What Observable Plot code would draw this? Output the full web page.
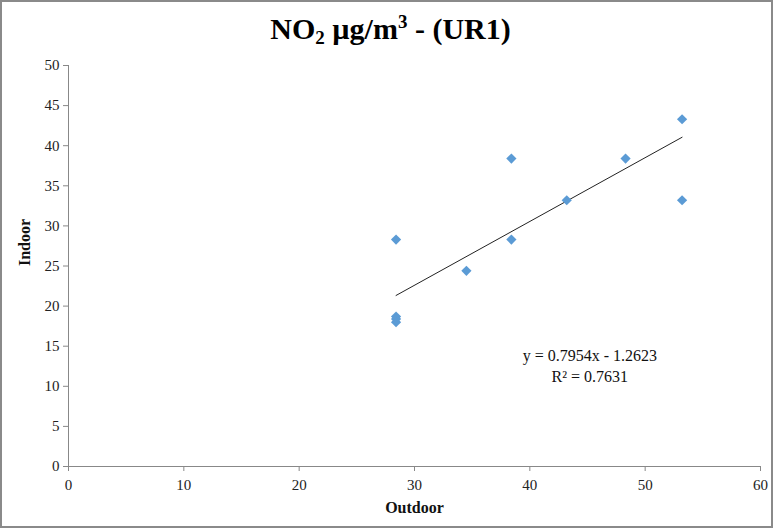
<!DOCTYPE html>
<html>
<head>
<meta charset="utf-8">
<script src="https://cdn.jsdelivr.net/npm/d3@7"></script>
<script src="https://cdn.jsdelivr.net/npm/@observablehq/plot@0.6"></script>
<style>
  html, body { margin: 0; padding: 0; background: #fff; }
  #wrap { width: 773px; height: 528px; box-sizing: border-box; border: 2px solid #8a8a8a; background: #fff; position: relative; }
  #title { height: 50px; text-align: center; font-family: "Liberation Serif", "Times New Roman", serif; font-weight: bold; font-size: 30px; line-height: 54px; color: #000; padding-left: 8px; }
  #title sub { font-size: 19px; vertical-align: -5px; line-height: 0; }
  #title sup { font-size: 19px; vertical-align: 11px; line-height: 0; }
  svg { display: block; }
</style>
</head>
<body>
<div id="wrap">
  <div id="title">NO<sub>2</sub> µg/m<sup>3</sup> - (UR1)</div>
  <div id="chart"></div>
</div>
<script>
const outdoor = [28.4, 28.4, 28.4, 28.4, 34.5, 38.4, 38.4, 43.2, 48.3, 53.2, 53.2];
const indoor  = [28.3, 18.7, 18.4, 18.0, 24.4, 38.4, 28.3, 33.2, 38.4, 43.3, 33.2];
const slope = 0.7954;
const intercept = -1.2623;
const equationLines = ["y = 0.7954x - 1.2623", "R² = 0.7631"];
const xTicks = [0, 10, 20, 30, 40, 50, 60];
const yTicks = [0, 5, 10, 15, 20, 25, 30, 35, 40, 45, 50];

const points = outdoor.map((x, i) => ({x, y: indoor[i]}));
const [xMin, xMax] = d3.extent(outdoor);
const trend = [xMin, xMax].map(x => ({x, y: slope * x + intercept}));
const labels = equationLines.map((t, i) => ({t, x: 45.2, y: i === 0 ? 13.8 : 11.2}));

const serif = "Liberation Serif, Times New Roman, serif";
const chart = Plot.plot({
  width: 769,
  height: 474,
  marginLeft: 66,
  marginRight: 11,
  marginTop: 13,
  marginBottom: 60,
  style: { fontFamily: serif, fontSize: "15px", color: "#222", background: "#fff" },
  x: { domain: [0, 60], ticks: xTicks, label: null },
  y: { domain: [0, 50], ticks: yTicks, label: null },
  marks: [
    Plot.axisX({ ticks: xTicks, tickSize: 5, tickPadding: 8, stroke: "#888", fill: "#222", label: null, fontSize: 15 }),
    Plot.axisY({ ticks: yTicks, tickSize: 5, tickPadding: 4, stroke: "#888", fill: "#222", label: null, fontSize: 15 }),
    Plot.ruleY([0], { stroke: "#888" }),
    Plot.ruleX([0], { stroke: "#888" }),
    Plot.line(trend, { x: "x", y: "y", stroke: "#222", strokeWidth: 1 }),
    Plot.dot(points, { x: "x", y: "y", symbol: "diamond2", r: 4.6, fill: "#5b9bd5", stroke: "none" }),
    Plot.text(labels, { x: "x", y: "y", text: "t", fontSize: 16, fill: "#111", fontFamily: serif }),
    Plot.text(["Outdoor"], { frameAnchor: "bottom", dy: 46, fontWeight: "bold", fontSize: 16, fill: "#111" }),
    Plot.text(["Indoor"], { frameAnchor: "left", dx: -44, rotate: -90, fontWeight: "bold", fontSize: 16, fill: "#111" })
  ]
});
document.getElementById("chart").appendChild(chart);
</script>
</body>
</html>
